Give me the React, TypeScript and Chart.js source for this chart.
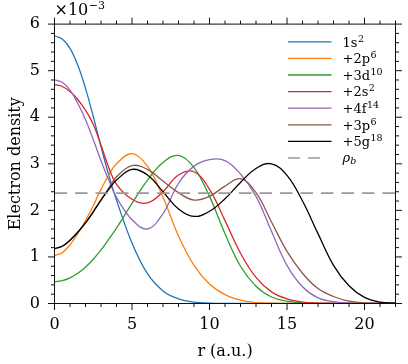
import React, { useEffect, useRef } from 'react';
import { Chart, registerables } from 'chart.js';
Chart.register(...registerables);

// radius r (a.u.)
const R = [0, 0.5, 1, 1.5, 2, 2.5, 3, 3.5, 4, 5, 6, 7, 8, 9, 10, 11, 12, 13, 14, 15, 16, 17, 18, 19, 20, 21, 22];
// electron densities in units of 1e-3
const S_1S2 = [5.75, 5.68, 5.48, 5.12, 4.62, 4.02, 3.37, 2.76, 2.22, 1.30, 0.64, 0.27, 0.10, 0.03, 0.01, 0.002, 0, 0, 0, 0, 0, 0, 0, 0, 0, 0, 0];
const S_2P6 = [1.03, 1.09, 1.26, 1.50, 1.78, 2.10, 2.45, 2.76, 3.00, 3.22, 2.95, 2.28, 1.45, 0.82, 0.42, 0.19, 0.07, 0.02, 0.005, 0, 0, 0, 0, 0, 0, 0, 0];
const S_3D10 = [0.47, 0.49, 0.55, 0.65, 0.78, 0.95, 1.15, 1.38, 1.62, 2.15, 2.65, 3.03, 3.18, 2.92, 2.30, 1.50, 0.80, 0.37, 0.14, 0.05, 0.01, 0, 0, 0, 0, 0, 0];
const S_2S2 = [4.70, 4.66, 4.55, 4.38, 4.15, 3.85, 3.40, 2.92, 2.56, 2.24, 2.16, 2.40, 2.76, 2.83, 2.45, 1.78, 1.08, 0.56, 0.25, 0.10, 0.03, 0.01, 0, 0, 0, 0, 0];
const S_4F14 = [4.80, 4.75, 4.58, 4.30, 3.95, 3.52, 3.07, 2.65, 2.28, 1.80, 1.60, 1.93, 2.58, 2.95, 3.09, 3.07, 2.78, 2.30, 1.55, 0.82, 0.36, 0.12, 0.04, 0.01, 0, 0, 0];
const S_3P6 = [1.18, 1.23, 1.36, 1.53, 1.73, 1.97, 2.22, 2.48, 2.72, 2.96, 2.88, 2.63, 2.38, 2.22, 2.30, 2.52, 2.68, 2.38, 1.75, 1.12, 0.65, 0.32, 0.15, 0.05, 0.015, 0, 0];
const S_5G18 = [1.18, 1.23, 1.36, 1.53, 1.73, 1.97, 2.22, 2.45, 2.65, 2.88, 2.76, 2.40, 2.03, 1.87, 1.98, 2.25, 2.60, 2.90, 3.00, 2.75, 2.20, 1.50, 0.82, 0.38, 0.13, 0.03, 0.005];
const RHO_B = 2.37;

const LABEL_BASE = ['1s', '+2p', '+3d', '+2s', '+4f', '+3p', '+5g'];
const LABEL_SUP = ['2', '6', '10', '2', '14', '6', '18'];
const COLORS = ['#1f77b4', '#ff7f0e', '#2ca02c', '#d62728', '#9467bd', '#8c564b', '#000000'];

const X_TICKS = [0, 5, 10, 15, 20];
const Y_TICKS = [0, 1, 2, 3, 4, 5, 6];
const X_MIN = 0, X_MAX = 22, X_MINOR = 1;
const Y_MIN = 0, Y_MAX = 6, Y_MINOR = 0.2;

const FONT = '"DejaVu Serif", serif';

const decoPlugin = {
  id: 'deco',
  afterDraw(chart: any) {
    const { ctx, chartArea: ca, scales } = chart;
    const xs = scales.x, ys = scales.y;
    ctx.save();
    ctx.strokeStyle = '#111';
    ctx.lineWidth = 1;
    ctx.setLineDash([]);
    ctx.strokeRect(ca.left, ca.top, ca.right - ca.left, ca.bottom - ca.top);
    const MAJ = 6.5, MIN = 3.5;
    ctx.beginPath();
    for (let v = X_MIN; v <= X_MAX + 1e-9; v += X_MINOR) {
      const vv = Math.round(v * 1000) / 1000;
      const L = X_TICKS.includes(vv) ? MAJ : MIN;
      const px = xs.getPixelForValue(vv);
      ctx.moveTo(px, ca.bottom); ctx.lineTo(px, ca.bottom + L);
      ctx.moveTo(px, ca.top); ctx.lineTo(px, ca.top - L);
    }
    for (let v = Y_MIN; v <= Y_MAX + 1e-9; v += Y_MINOR) {
      const vv = Math.round(v * 1000) / 1000;
      const L = Y_TICKS.includes(vv) ? MAJ : MIN;
      const py = ys.getPixelForValue(vv);
      ctx.moveTo(ca.left, py); ctx.lineTo(ca.left - L, py);
      ctx.moveTo(ca.right, py); ctx.lineTo(ca.right + L, py);
    }
    ctx.stroke();

    // offset text x10^-3
    ctx.fillStyle = '#000';
    ctx.textBaseline = 'alphabetic';
    ctx.textAlign = 'left';
    ctx.font = '16px ' + FONT;
    ctx.fillText('×10', ca.left, 15.3);
    const w = ctx.measureText('×10').width;
    ctx.font = '11px ' + FONT;
    ctx.fillText('−3', ca.left + w + 0.5, 9.3);

    // legend
    const x0 = ca.right - 107.5;
    const lineLen = 43.5;
    const tx = ca.right - 53;
    const dy = 16.6;
    let y = ca.top + 17.7;
    for (let i = 0; i < LABEL_BASE.length; i++) {
      ctx.strokeStyle = COLORS[i];
      ctx.lineWidth = 1.3;
      ctx.beginPath();
      ctx.moveTo(x0, y); ctx.lineTo(x0 + lineLen, y);
      ctx.stroke();
      ctx.font = '13px ' + FONT;
      ctx.fillStyle = '#000';
      ctx.fillText(LABEL_BASE[i], tx, y + 4.7);
      const bw = ctx.measureText(LABEL_BASE[i]).width;
      ctx.font = '9.5px ' + FONT;
      ctx.fillText(LABEL_SUP[i], tx + bw + 0.5, y - 0.2);
      y += dy;
    }
    ctx.strokeStyle = '#999999';
    ctx.lineWidth = 1.6;
    ctx.setLineDash([12, 8]);
    ctx.beginPath();
    ctx.moveTo(x0, y); ctx.lineTo(x0 + 33, y);
    ctx.stroke();
    ctx.setLineDash([]);
    ctx.font = 'italic 13px ' + FONT;
    ctx.fillText('ρ', tx, y + 3.8);
    const rw = ctx.measureText('ρ').width;
    ctx.font = 'italic 9.5px ' + FONT;
    ctx.fillText('b', tx + rw, y + 6.0);
    ctx.restore();
  },
};

export default function App() {
  const ref = useRef<HTMLCanvasElement>(null);
  useEffect(() => {
    const series = [S_1S2, S_2P6, S_3D10, S_2S2, S_4F14, S_3P6, S_5G18];
    const datasets: any[] = series.map((vals, i) => ({
      label: LABEL_BASE[i] + LABEL_SUP[i],
      data: R.map((r, j) => ({ x: r, y: vals[j] })),
      borderColor: COLORS[i],
      backgroundColor: COLORS[i],
      borderWidth: 1.3,
      pointRadius: 0,
      tension: 0.4,
      fill: false,
      order: 10 - i,
    }));
    datasets.push({
      label: 'rho_b',
      data: [{ x: X_MIN, y: RHO_B }, { x: X_MAX, y: RHO_B }],
      borderColor: '#999999',
      borderWidth: 1.6,
      borderDash: [12.5, 8],
      pointRadius: 0,
      tension: 0,
      fill: false,
      order: 0,
    });
    const chart = new Chart(ref.current as HTMLCanvasElement, {
      type: 'line',
      data: { datasets },
      options: {
        animation: false,
        responsive: true,
        maintainAspectRatio: false,
        layout: { padding: { left: 0, top: 20.5, right: 12.5, bottom: 0 } },
        plugins: { legend: { display: false }, tooltip: { enabled: false } },
        scales: {
          x: {
            type: 'linear',
            min: X_MIN,
            max: X_MAX,
            afterBuildTicks: (s: any) => { s.ticks = X_TICKS.map((v) => ({ value: v })); },
            afterFit: (s: any) => { s.height = 60.5; },
            grid: { display: false, drawTicks: false },
            border: { display: false },
            ticks: { font: { family: FONT, size: 16 }, color: '#000', padding: 11.5, maxRotation: 0, autoSkip: false },
            title: { display: true, text: 'r (a.u.)', font: { family: FONT, size: 16 }, color: '#000', padding: { top: 0, bottom: 3 } },
          },
          y: {
            type: 'linear',
            min: Y_MIN,
            max: Y_MAX,
            afterBuildTicks: (s: any) => { s.ticks = Y_TICKS.map((v) => ({ value: v })); },
            afterFit: (s: any) => { s.width = 54.5; },
            grid: { display: false, drawTicks: false },
            border: { display: false },
            ticks: { font: { family: FONT, size: 16 }, color: '#000', padding: 14.5, autoSkip: false },
            title: { display: true, text: 'Electron density', font: { family: FONT, size: 16 }, color: '#000', padding: { top: 6.5, bottom: 0 } },
          },
        },
      },
      plugins: [decoPlugin],
    });
    return () => chart.destroy();
  }, []);
  return (
    <div style={{ position: 'fixed', left: 0, top: 0, width: 408, height: 364 }}>
      <canvas ref={ref} />
    </div>
  );
}
